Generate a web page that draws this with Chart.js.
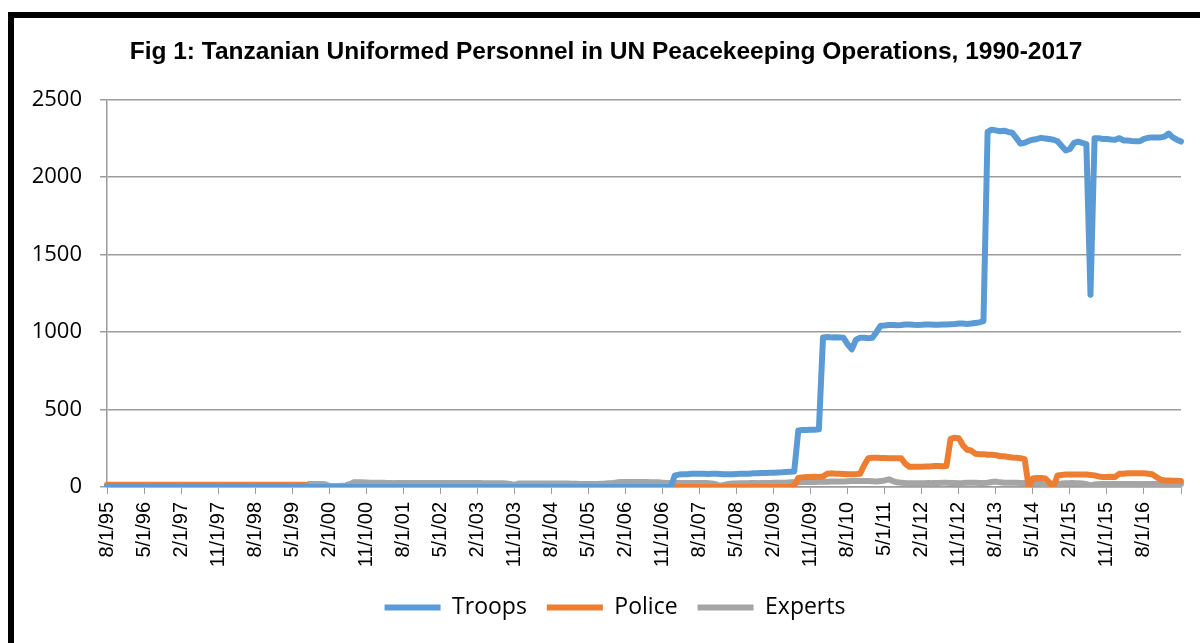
<!DOCTYPE html>
<html>
<head>
<meta charset="utf-8">
<script src="https://cdn.jsdelivr.net/npm/chart.js@4.4.1/dist/chart.umd.min.js"></script>
<style>
    html, body { margin: 0; padding: 0; background: #ffffff; }
    #moldura { position: absolute; left: 8px; top: 12px; width: 1300px; height: 800px; border: 6px solid #000; box-sizing: border-box; pointer-events: none; }
    #grafico { position: absolute; left: 0; top: 0; }
</style>
</head>
<body>
<canvas id="grafico" width="1200" height="643"></canvas>
<div id="moldura"></div>
<script>

// primeiro mes da serie (8/1/95), um ponto por mes
const mes_inicial = 8;
const ano_inicial = 1995;
const passo_rotulos = 9;

const tropas = [
    // 8/95 - 12/06
    0,0,0,0,0,0,0,0,0,0,0,0,
    0,0,0,0,0,0,0,0,0,0,0,0,
    0,0,0,0,0,0,0,0,0,0,0,0,
    0,0,0,0,0,0,0,0,0,0,0,0,
    0,0,0,0,0,0,0,0,0,0,0,0,
    0,0,0,0,0,0,0,0,0,0,0,0,
    0,0,0,0,0,0,0,0,0,0,0,0,
    0,0,0,0,0,0,0,0,0,0,0,0,
    0,0,0,0,0,0,0,0,0,0,0,0,
    0,0,0,0,0,0,0,0,0,0,0,0,
    0,0,0,0,0,0,0,0,0,0,0,0,
    0,0,0,0,0,0,
    // 1/07 - 5/09
    75,80,82,82,85,85,85,85,84,86,85,84,83,82,82,84,86,85,86,88,88,90,90,92,92,94,95,97,99,
    100,365,368,368,370,370,372,
    965,968,965,966,965,962,920,888,950,962,962,960,962,1000,1040,
    1042,1045,1045,1043,1045,1048,1048,1046,1045,1046,1048,1048,
    1046,1047,1048,1048,1050,1052,1055,1054,1052,1054,1058,1062,
    1070,2290,
    2305,2300,2295,2298,2290,2285,
    2250,2215,2220,2232,2240,2245,2252,2248,2244,2240,
    2230,2200,2170,2180,2220,2228,2220,2212,1240,
    2250,2250,2245,2245,2242,2240,2250,2235,2235,2232,
    2230,2230,2245,2252,2255,2255,2255,2260,2280,2255,
    2240,2228
];

const policia = [
    15,15,15,15,15,15,15,15,15,15,15,15,
    15,15,15,15,15,15,15,15,15,15,15,15,
    15,15,15,15,15,15,15,15,15,15,15,15,
    15,15,15,15,15,15,15,15,15,15,15,15,
    15,
    0,0,0,0,0,0,0,0,0,0,0,0,
    0,0,0,0,0,0,0,0,0,0,0,0,
    0,0,0,0,0,0,0,0,0,0,0,0,
    0,0,0,0,0,0,0,0,0,0,0,0,
    0,0,0,0,0,0,0,0,0,0,0,0,
    0,0,0,0,0,0,0,0,0,0,0,0,
    0,0,0,0,0,0,0,0,0,0,0,0,
    0,0,0,0,0,0,0,0,0,0,0,0,
    0,0,0,0,0,0,0,0,0,0,0,0,
    0,0,0,0,0,0,0,0,0,0,
    10,58,
    62,65,65,66,65,68,
    85,88,86,85,84,83,82,83,85,
    140,185,
    188,188,187,187,186,186,186,185,
    150,130,
    130,130,130,132,132,135,135,134,135,
    310,318,315,
    270,240,235,215,212,212,208,208,205,200,198,194,190,188,185,
    180,0,
    55,58,58,55,30,
    0,
    75,78,80,80,80,80,80,80,78,75,
    68,65,65,66,65,
    85,86,88,88,88,88,88,86,82,
    65,48,42,42,40,40,38
];

const especialistas = [
    2,2,2,2,2,2,2,2,2,2,2,2,
    2,2,2,2,2,2,2,2,2,2,2,2,
    2,2,2,2,2,2,2,2,2,2,2,2,
    2,2,2,2,2,2,2,2,2,2,2,2,
    2,
    20,20,20,20,18,
    8,6,6,8,10,
    18,30,
    30,30,29,28,28,27,27,26,26,25,
    25,25,25,25,25,25,25,25,25,25,
    25,25,25,25,25,25,25,25,25,25,
    25,24,24,24,24,24,22,20,
    14,
    22,22,22,22,22,22,22,22,22,22,22,22,
    22,21,21,20,20,20,20,20,21,22,24,26,
    30,32,32,32,32,32,32,32,30,30,30,28,
    26,26,25,25,25,25,25,25,25,25,25,22,18,
    8,14,
    20,22,22,24,24,25,25,25,26,26,26,27,27,28,28,
    30,30,30,32,32,32,32,34,34,34,35,35,36,36,37,38,38,38,38,38,37,36,38,42,
    50,38,
    30,28,26,25,24,24,24,25,25,26,26,27,27,26,26,25,26,28,
    28,27,26,26,28,32,35,30,28,27,27,27,26,26,25,25,24,22,
    10,12,16,
    20,22,24,25,25,24,22,18,
    10,
    16,18,20,20,20,20,20,20,20,20,20,
    20,20,20,20,20,20,20,20,20,20,20
];

const nomes_series = ['Troops', 'Police', 'Experts'];
const cores_series = ['#5B9BD5', '#ED7D31', '#A5A5A5'];

// rotulos mensais no formato m/1/aa
const rotulos = [];
for (let i = 0; i < tropas.length; i++) {
    const m = (mes_inicial - 1 + i) % 12 + 1;
    const a = ano_inicial + Math.floor((mes_inicial - 1 + i) / 12);
    rotulos.push(m + '/1/' + String(a % 100).padStart(2, '0'));
}

const cinza_grade = '#9c9c9c';

function serie(nome, valores, cor){
    return {
        label: nome,
        data: valores,
        borderColor: cor,
        backgroundColor: cor,
        borderWidth: 6,
        borderCapStyle: 'round',
        borderJoinStyle: 'round',
        pointRadius: 0,
        tension: 0,
        fill: false
    };
}

//Centraliza titulo e legenda onde estao no original
function centraliza(caixa, centro){
    const d = centro - (caixa.left + caixa.right) / 2;
    caixa.left += d;
    caixa.right += d;
}

const desloca_caixas = {
    id: 'desloca_caixas',
    afterLayout(chart){
        centraliza(chart.titleBlock, 606);
        centraliza(chart.legend, 615);
    }
};

new Chart(document.getElementById('grafico'), {
    type: 'line',
    data: {
        labels: rotulos,
        datasets: [
            serie(nomes_series[0], tropas, cores_series[0]),
            serie(nomes_series[1], policia, cores_series[1]),
            serie(nomes_series[2], especialistas, cores_series[2])
        ]
    },
    plugins: [desloca_caixas],
    options: {
        responsive: false,
        animation: false,
        layout: { padding: { left: 20, right: 19, top: 20, bottom: 14 } },
        plugins: {
            title: {
                display: true,
                text: 'Fig 1: Tanzanian Uniformed Personnel in UN Peacekeeping Operations, 1990-2017',
                color: '#000',
                font: { family: "'Liberation Sans', Arial", size: 24.5, weight: 'bold' },
                padding: { top: 18, bottom: 32 }
            },
            legend: {
                position: 'bottom',
                labels: {
                    usePointStyle: true,
                    pointStyle: 'line',
                    pointStyleWidth: 56,
                    color: '#000',
                    padding: 20,
                    font: { family: "'Open Sans', Lato, sans-serif", size: 23 }
                }
            },
            tooltip: { enabled: false }
        },
        scales: {
            x: {
                offset: false,
                border: { color: cinza_grade, width: 1.5 },
                grid: {
                    drawOnChartArea: false,
                    drawTicks: true,
                    tickLength: 7,
                    tickColor: ctx => (ctx.index % passo_rotulos === 0) ? cinza_grade : 'rgba(0,0,0,0)'
                },
                ticks: {
                    autoSkip: false,
                    minRotation: 90,
                    maxRotation: 90,
                    padding: 8,
                    color: '#000',
                    font: { family: "'Liberation Sans', Arial", size: 20 },
                    callback: function(valor, indice){
                        if (indice % passo_rotulos === 0 && indice < rotulos.length - 1) {
                            return this.getLabelForValue(valor);
                        }
                        return '';
                    }
                },
                afterFit: escala => {
                    escala.height = 89;
                    escala.paddingLeft = 0;
                    escala.paddingRight = 0;
                }
            },
            y: {
                min: 0,
                max: 2500,
                border: { color: cinza_grade, width: 1.5 },
                grid: { color: cinza_grade, lineWidth: 1.5, tickLength: 7, tickColor: cinza_grade },
                ticks: {
                    stepSize: 500,
                    padding: 18,
                    color: '#000',
                    font: { family: "'Open Sans', Lato, sans-serif", size: 22 },
                    callback: valor => String(valor)
                },
                afterFit: escala => { escala.width = 87; }
            }
        }
    }
});
</script>
</body>
</html>
